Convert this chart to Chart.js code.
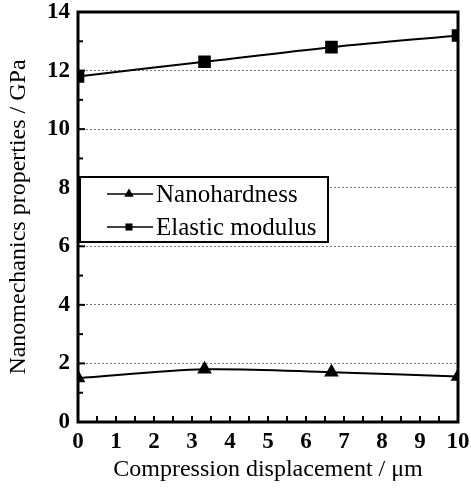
<!DOCTYPE html>
<html>
<head>
<meta charset="utf-8">
<script src="https://cdn.jsdelivr.net/npm/chart.js@4.4.0/dist/chart.umd.min.js"></script>
<style>
  html, body { margin: 0; padding: 0; background: #fff; }
  #wrap { width: 471px; height: 488px; }
</style>
</head>
<body>
<div id="wrap"><canvas id="grafico" width="471" height="488"></canvas></div>
<script>
// datos
const desplazamiento = [0, 3.33, 6.67, 10];
const nanodureza = [1.5, 1.8, 1.7, 1.55];
const moduloElastico = [11.8, 12.3, 12.8, 13.2];
const nombres = ["Nanohardness", "Elastic modulus"];
const xTicks = [0, 1, 2, 3, 4, 5, 6, 7, 8, 9, 10];
const yTicks = [0, 2, 4, 6, 8, 10, 12, 14];

const fuente = "'Liberation Serif', 'Times New Roman', serif";

// marco, marcas hacia adentro y leyenda
const extras = {
  id: "extras",
  afterDraw(chart) {
    const ctx = chart.ctx;
    const a = chart.chartArea;
    const sx = chart.scales.x, sy = chart.scales.y;
    ctx.save();
    ctx.strokeStyle = "#000";
    ctx.lineWidth = 2;
    for (let v = 0; v <= 10; v += 0.5) {
      const px = sx.getPixelForValue(v);
      ctx.beginPath();
      ctx.moveTo(px, a.bottom);
      ctx.lineTo(px, a.bottom - 6);
      ctx.stroke();
    }
    for (let v = 0; v <= 14; v += 1) {
      const py = sy.getPixelForValue(v);
      ctx.beginPath();
      ctx.moveTo(a.left, py);
      ctx.lineTo(a.left + (v % 2 === 0 ? 7 : 5), py);
      ctx.stroke();
    }
    ctx.lineWidth = 3;
    ctx.strokeRect(a.left, a.top, a.right - a.left, a.bottom - a.top);

    // leyenda
    const lx = 80, ly = 177;
    const lw = 248, lh = 65;
    ctx.fillStyle = "#fff";
    ctx.fillRect(lx, ly, lw, lh);
    ctx.lineWidth = 2;
    ctx.strokeRect(lx, ly, lw, lh);
    ctx.font = "25px " + fuente;
    ctx.textBaseline = "middle";
    chart.data.datasets.forEach((ds, i) => {
      const cy = ly + 17 + i * 33;
      ctx.lineWidth = 1.5;
      ctx.beginPath();
      ctx.moveTo(lx + 27, cy);
      ctx.lineTo(lx + 73, cy);
      ctx.stroke();
      ctx.fillStyle = "#000";
      Chart.helpers.drawPoint(ctx, { pointStyle: ds.pointStyle, radius: i === 0 ? 5.5 : 5 }, lx + 49, cy);
      ctx.fillText(ds.label, lx + 76, cy + 1);
    });
    ctx.restore();
  }
};

new Chart(document.getElementById("grafico"), {
  type: "line",
  data: {
    datasets: [
      {
        label: nombres[0],
        data: desplazamiento.map((x, i) => ({ x, y: nanodureza[i] })),
        borderColor: "#000",
        backgroundColor: "#000",
        borderWidth: 2,
        pointStyle: "triangle",
        pointRadius: 6.5,
        tension: 0.3
      },
      {
        label: nombres[1],
        data: desplazamiento.map((x, i) => ({ x, y: moduloElastico[i] })),
        borderColor: "#000",
        backgroundColor: "#000",
        borderWidth: 2,
        pointStyle: "rect",
        pointRadius: 7.5,
        tension: 0.3
      }
    ]
  },
  options: {
    responsive: false,
    animation: false,
    layout: { padding: { top: 12, right: 13, left: 0, bottom: 0 } },
    plugins: { legend: { display: false }, tooltip: { enabled: false } },
    scales: {
      x: {
        type: "linear",
        min: 0, max: 10,
        afterBuildTicks: (s) => { s.ticks = xTicks.map(v => ({ value: v })); },
        afterFit: (s) => { s.height = 66; s.paddingLeft = 0; s.paddingRight = 0; },
        grid: { display: false, drawTicks: false },
        border: { display: false },
        ticks: { color: "#000", padding: 6, font: { family: fuente, size: 23, weight: "bold" } },
        title: { display: true, text: "Compression displacement / μm", color: "#000", padding: { top: 0 },
          font: { family: fuente, size: 24 } }
      },
      y: {
        min: 0, max: 14,
        afterBuildTicks: (s) => { s.ticks = yTicks.map(v => ({ value: v })); },
        afterFit: (s) => { s.width = 78; s.paddingTop = 0; s.paddingBottom = 0; },
        grid: {
          drawTicks: false,
          color: (c) => (c.tick && (c.tick.value === 0 || c.tick.value === 14)) ? "rgba(0,0,0,0)" : "#777",
          lineWidth: 1
        },
        border: { display: false, dash: [2, 2] },
        ticks: { color: "#000", padding: 8, font: { family: fuente, size: 23, weight: "bold" } },
        title: { display: true, text: "Nanomechanics properties / GPa", color: "#000", padding: { top: 4, bottom: 0 },
          font: { family: fuente, size: 24 } }
      }
    }
  },
  plugins: [extras]
});
</script>
</body>
</html>
